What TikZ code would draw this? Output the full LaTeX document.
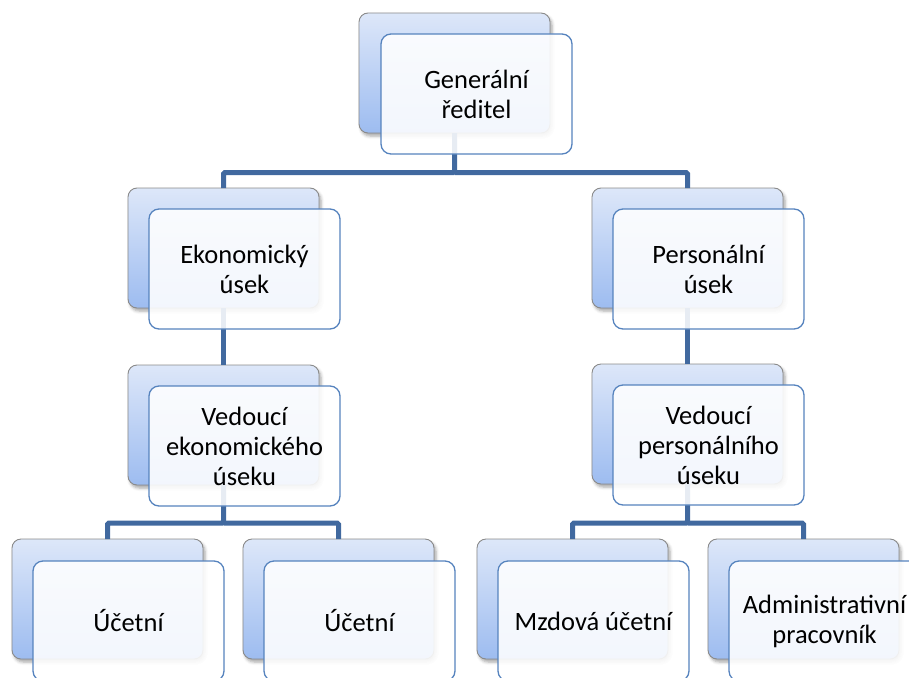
\documentclass[tikz,border=0pt]{standalone}
\usepackage{fontspec}
\setmainfont{Carlito}
\usetikzlibrary{shadows.blur,calc}

\definecolor{backtop}{HTML}{DDE7F9}
\definecolor{backbot}{HTML}{9DBCF0}
\definecolor{backline}{HTML}{8A8A8A}
\definecolor{frontline}{HTML}{5683BE}
\definecolor{linkcol}{HTML}{41699F}

\tikzset{
  backbox/.style={draw=backline, line width=0.9pt, rounded corners=9pt,
    top color=backtop, bottom color=backbot,
    minimum width=191pt, minimum height=120pt, anchor=north west,
    inner sep=0pt, outer sep=0pt,
    blur shadow={shadow xshift=2pt, shadow yshift=-3pt, shadow blur radius=3pt, shadow opacity=35}},
  frontbox/.style={draw=frontline, line width=1.3pt, rounded corners=10pt,
    fill=white, fill opacity=0.88, text opacity=1,
    minimum width=191pt, minimum height=120pt, anchor=north west,
    inner sep=0pt, outer sep=0pt, align=center,
    font=\fontsize{26.5}{30}\selectfont},
  link/.style={draw=linkcol, line width=5pt, rounded corners=1.5pt}
}

\begin{document}
\begin{tikzpicture}[x=1pt,y=-1pt]
\useasboundingbox (0,0) rectangle (909,677);
\clip (0,0) rectangle (909,677);

% back cards
\node[backbox] (gB)  at (359,13)  {};
\node[backbox] (eB)  at (128,188) {};
\node[backbox] (pB)  at (592,188) {};
\node[backbox] (veB) at (128,365) {};
\node[backbox] (vpB) at (592,364) {};
\node[backbox] (u1B) at (12,539)  {};
\node[backbox] (u2B) at (243,539) {};
\node[backbox] (mB)  at (477,539) {};
\node[backbox] (aB)  at (708,539) {};

% connectors
\draw[link] (gB.south) -- (gB.south |- 0,172.5) -| (eB.north);
\draw[link] (gB.south |- 0,172.5) -| (pB.north);
\draw[link] (eB.south) -- (veB.north);
\draw[link] (pB.south) -- (vpB.north);
\draw[link] (veB.south) -- (veB.south |- 0,523) -| (u1B.north);
\draw[link] (veB.south |- 0,523) -| (u2B.north);
\draw[link] (vpB.south) -- (vpB.south |- 0,523) -| (mB.north);
\draw[link] (vpB.south |- 0,523) -| (aB.north);

% front cards with the labels
\node[frontbox] (gF)  at (381,34)  {Generální\\ředitel};
\node[frontbox] (eF)  at (149,209) {Ekonomický\\úsek};
\node[frontbox] (pF)  at (613,209) {Personální\\úsek};
\node[frontbox] (veF) at (149,386) {Vedoucí\\ekonomického\\úseku};
\node[frontbox] (vpF) at (613,385) {Vedoucí\\personálního\\úseku};
\node[frontbox] (u1F) at (33,561)  {Účetní};
\node[frontbox] (u2F) at (264,561) {Účetní};
\node[frontbox] (mF)  at (498,561) {Mzdová účetní};
\node[frontbox] (aF)  at (729,561) {Administrativní\\pracovník};
\end{tikzpicture}
\end{document}
